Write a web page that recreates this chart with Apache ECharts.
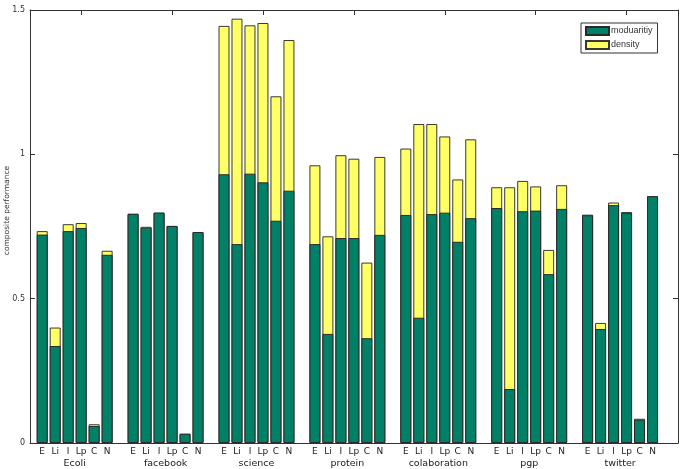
<!DOCTYPE html>
<html>
<head>
<meta charset="utf-8">
<script src="https://cdn.jsdelivr.net/npm/echarts@6/dist/echarts.min.js"></script>
<style>
html,body{margin:0;padding:0;background:#fff;}
#chart{width:685px;height:469px;}
</style>
</head>
<body>
<div id="chart"></div>
<script>
var groups = ['Ecoli', 'facebook', 'science', 'protein', 'colaboration', 'pgp', 'twitter'];
var methods = ['E', 'Li', 'I', 'Lp', 'C', 'N'];
// modularity (green) per group, order E, Li, I, Lp, C, N
var modularity = [
  [0.722, 0.336, 0.734, 0.745, 0.059, 0.652],
  [0.794, 0.746, 0.798, 0.752, 0.032, 0.731],
  [0.931, 0.689, 0.933, 0.903, 0.770, 0.874],
  [0.689, 0.378, 0.710, 0.710, 0.363, 0.721],
  [0.790, 0.434, 0.793, 0.798, 0.697, 0.779],
  [0.814, 0.187, 0.803, 0.805, 0.585, 0.811],
  [0.789, 0.395, 0.824, 0.797, 0.081, 0.855]
];
// density (yellow) per group, stacked on top of modularity
var density = [
  [0.012, 0.064, 0.024, 0.017, 0.006, 0.014],
  [0.000, 0.003, 0.000, 0.000, 0.000, 0.000],
  [0.514, 0.781, 0.514, 0.552, 0.431, 0.522],
  [0.273, 0.338, 0.287, 0.275, 0.262, 0.270],
  [0.230, 0.671, 0.312, 0.264, 0.216, 0.273],
  [0.072, 0.699, 0.105, 0.084, 0.084, 0.082],
  [0.002, 0.021, 0.009, 0.003, 0.003, 0.000]
];
var yTicks = [0, 0.5, 1, 1.5];

var SLOT = 7; // 6 bars + one empty slot per group
var posLabel = {};
var positions = [];
var groupCenters = [];
var groupTicks = [];
var modData = [], totData = [];
groups.forEach(function (g, gi) {
  groupCenters.push(gi * SLOT + 2.5);
  groupTicks.push(gi * SLOT + 3);
  methods.forEach(function (m, mi) {
    var x = gi * SLOT + mi;
    positions.push(x);
    posLabel[x] = m;
    modData.push([x, modularity[gi][mi]]);
    // the density segment sits on top of the modularity segment
    totData.push([x, modularity[gi][mi] + density[gi][mi]]);
  });
});
var groupByCenter = {};
groupCenters.forEach(function (c, i) { groupByCenter[c.toFixed(1)] = groups[i]; });

var XMIN = -0.94, XMAX = 48.96;
var font = 'DejaVu Sans';
var axisCol = '#333';

var chart = echarts.init(document.getElementById('chart'));
chart.setOption({
  animation: false,
  backgroundColor: '#fff',
  grid: { left: 30, top: 10, right: 7, bottom: 26, containLabel: false, outerBoundsMode: 'none' },
  legend: {
    orient: 'vertical',
    left: 581, top: 23,
    padding: [3, 5, 3, 4],
    itemGap: 4,
    itemWidth: 23, itemHeight: 8,
    borderColor: '#333', borderWidth: 1,
    icon: 'rect',
    textStyle: { fontFamily: 'Liberation Sans', fontSize: 9, color: '#333', padding: [0, 0, 0, -3] },
    data: ['moduaritiy', 'density']
  },
  xAxis: [
    {
      type: 'value', min: XMIN, max: XMAX, position: 'bottom',
      axisLine: { show: true, onZero: false, lineStyle: { color: axisCol, width: 1 } },
      axisTick: { show: false },
      splitLine: { show: false },
      axisLabel: {
        customValues: positions,
        margin: 4,
        fontFamily: font, fontSize: 9, color: '#222',
        formatter: function (v) { return posLabel[Math.round(v)] || ''; }
      }
    },
    {
      type: 'value', min: XMIN, max: XMAX, position: 'bottom', offset: 12,
      axisLine: { show: false, onZero: false },
      axisTick: { show: false },
      splitLine: { show: false },
      axisLabel: {
        customValues: groupCenters,
        margin: 4,
        fontFamily: font, fontSize: 9.5, color: '#222',
        formatter: function (v) { return groupByCenter[(Math.round(v * 2) / 2).toFixed(1)] || ''; }
      }
    },
    {
      type: 'value', min: XMIN, max: XMAX, position: 'top',
      axisLine: { show: true, onZero: false, lineStyle: { color: axisCol, width: 1 } },
      axisTick: { show: true, inside: true, length: 5, customValues: groupTicks, lineStyle: { color: axisCol } },
      splitLine: { show: false },
      axisLabel: { show: false }
    }
  ],
  yAxis: [
    {
      type: 'value', min: yTicks[0], max: yTicks[yTicks.length - 1], interval: 0.5,
      position: 'left',
      name: 'composite performance', nameLocation: 'middle', nameGap: 19,
      nameMoveOverlap: false,
      nameTextStyle: { fontFamily: font, fontSize: 7.5, color: '#333', padding: [0, 0, 0, 32] },
      axisLine: { show: true, onZero: false, lineStyle: { color: axisCol, width: 1 } },
      axisTick: { show: true, inside: true, length: 5, lineStyle: { color: axisCol } },
      splitLine: { show: false },
      axisLabel: { margin: 5, fontFamily: font, fontSize: 8, color: '#333' }
    },
    {
      type: 'value', min: yTicks[0], max: yTicks[yTicks.length - 1], interval: 0.5,
      position: 'right',
      axisLine: { show: true, onZero: false, lineStyle: { color: axisCol, width: 1 } },
      axisTick: { show: true, inside: true, length: 5, lineStyle: { color: axisCol } },
      splitLine: { show: false },
      axisLabel: { show: false }
    }
  ],
  series: [
    {
      name: 'density', type: 'bar', xAxisIndex: 0, yAxisIndex: 0,
      barWidth: 11, barGap: '-100%', z: 2,
      itemStyle: { color: '#ffff66', borderColor: '#3a3a2a', borderWidth: 1 },
      data: totData
    },
    {
      name: 'moduaritiy', type: 'bar', xAxisIndex: 0, yAxisIndex: 0,
      barWidth: 11, barGap: '-100%', z: 3,
      itemStyle: { color: '#008066', borderColor: '#2a2a2a', borderWidth: 1 },
      data: modData
    }
  ]
});
</script>
</body>
</html>
